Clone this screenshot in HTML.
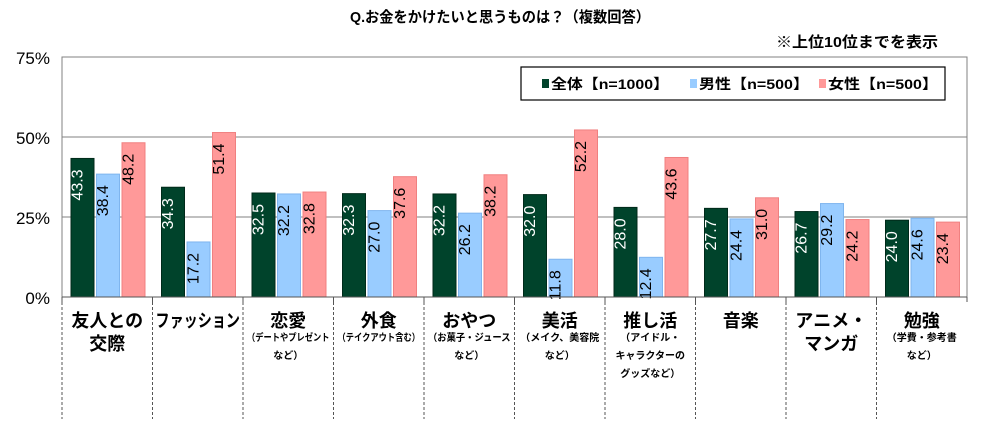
<!DOCTYPE html>
<html><head><meta charset="utf-8">
<style>
body{margin:0;background:#fff;width:1000px;height:419px;overflow:hidden}
svg text{font-family:"Liberation Sans","Noto Sans CJK JP",sans-serif}
</style></head><body>
<svg id="chart" width="1000" height="419" viewBox="0 0 1000 419" xmlns="http://www.w3.org/2000/svg">
<text x="500" y="22" text-anchor="middle" font-size="15" font-weight="bold" textLength="300" lengthAdjust="spacingAndGlyphs">Q.お金をかけたいと思うものは？（複数回答）</text>
<text x="938" y="47" text-anchor="end" font-size="15" font-weight="bold" textLength="162" lengthAdjust="spacingAndGlyphs">※上位10位までを表示</text>
<g id="plot"></g>
<g>
<rect x="521" y="67" width="424" height="33" fill="#fff" stroke="#000" stroke-width="1.2"/>
<rect x="542" y="79" width="7" height="9" fill="#00432b"/>
<text x="551" y="89" font-size="14" font-weight="bold" textLength="118" lengthAdjust="spacingAndGlyphs">全体【n=1000】</text>
<rect x="690" y="79" width="7" height="9" fill="#99ccff"/>
<text x="699" y="89" font-size="14" font-weight="bold" textLength="110" lengthAdjust="spacingAndGlyphs">男性【n=500】</text>
<rect x="819" y="79" width="7" height="9" fill="#ff9999"/>
<text x="828" y="89" font-size="14" font-weight="bold" textLength="110" lengthAdjust="spacingAndGlyphs">女性【n=500】</text>
</g>
</svg>
<script>
const categories=[["友人との","交際"],["ファッション"],["恋愛"],["外食"],["おやつ"],["美活"],["推し活"],["音楽"],["アニメ・","マンガ"],["勉強"]];
const subLabels=[[],[],["（デートやプレゼント","など）"],["（テイクアウト含む）"],["（お菓子・ジュース","など）"],["（メイク、美容院","など）"],["（アイドル・","キャラクターの","グッズなど）"],[],[],["（学費・参考書","など）"]];
const allValues=[43.3,34.3,32.5,32.3,32.2,32.0,28.0,27.7,26.7,24.0];
const maleValues=[38.4,17.2,32.2,27.0,26.2,11.8,12.4,24.4,29.2,24.6];
const femaleValues=[48.2,51.4,32.8,37.6,38.2,52.2,43.6,31.0,24.2,23.4];
const yTicks=[0,25,50,75];
const yTickLabels=["0%","25%","50%","75%"];

const NS="http://www.w3.org/2000/svg";
const plot=document.getElementById('plot');
const L=62,R=967,T=57,B=297;
const cw=(R-L)/categories.length;
const y=v=>B-(v/75)*(B-T);
function mk(tag,attrs,parent){const e=document.createElementNS(NS,tag);for(const k in attrs)e.setAttribute(k,attrs[k]);(parent||plot).appendChild(e);return e;}
function fit(t,max){const w=t.getComputedTextLength();if(w>max){t.setAttribute('textLength',max);t.setAttribute('lengthAdjust','spacingAndGlyphs');}}

yTicks.forEach((t,i)=>{
  if(t>0&&t<75){const g=mk('line',{x1:L,x2:R,y1:y(t),y2:y(t),stroke:'#808080','stroke-width':1});
  
  }
  const tx=mk('text',{x:L-12,y:y(t)+7,'text-anchor':'end','font-size':17});
  tx.textContent=yTickLabels[i];
  
  
});
const frame=mk('rect',{x:L,y:T,width:R-L,height:B-T,fill:'none',stroke:'#808080','stroke-width':1});



const series=[[allValues,'#00432b','#002a1a','#fff','all'],[maleValues,'#99ccff','#7fb5ee','#000','male'],[femaleValues,'#ff9999','#f08080','#000','female']];
categories.forEach((c,i)=>{
  const x0=L+i*cw;
  series.forEach((s,j)=>{
    const v=s[0][i];const bx=x0+9+j*25.5;
    const r=mk('rect',{x:bx,y:y(v),width:23,height:B-y(v),fill:s[1],stroke:s[2],'stroke-width':1});
    
    
    const cx=bx+11.5,ty=y(v)+5;
    const t=mk('text',{x:cx,y:ty+6,'text-anchor':'end','font-size':16,fill:s[3],transform:`rotate(-90 ${cx} ${ty+6})`});
    t.textContent=v.toFixed(1);
    
    
  });
  const sep=mk('line',{x1:x0,x2:x0,y1:B,y2:419,stroke:'#555','stroke-width':1,'stroke-dasharray':'3,2'});
  
  
  const tk=mk('line',{x1:x0,x2:x0,y1:B,y2:B+5,stroke:'#555'});
  
  
  const mx=x0+cw/2;
  c.forEach((ln,k)=>{
    const t=mk('text',{x:mx,y:327+k*23,'text-anchor':'middle','font-size':18,'font-weight':'bold'});
    t.textContent=ln;
    
    
    fit(t,cw-6);
  });
  const sy=327+(c.length-1)*23+14;
  subLabels[i].forEach((ln,k)=>{
    const t=mk('text',{x:mx,y:sy+k*18,'text-anchor':'middle','font-size':10,'font-weight':'bold'});
    t.textContent=ln;
    
    
    fit(t,cw-8);
  });
});
const ax=mk('line',{x1:L,x2:R,y1:B,y2:B,stroke:'#555'});


const rt=mk('line',{x1:R,x2:R,y1:B,y2:B+5,stroke:'#555'});


</script>
</body></html>
